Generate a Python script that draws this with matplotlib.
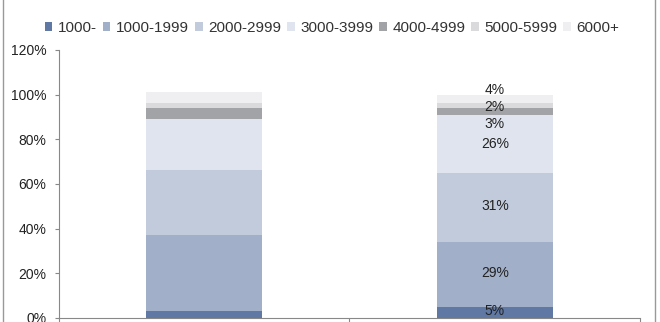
import numpy as np
import matplotlib.pyplot as plt
from matplotlib.lines import Line2D

plt.rcParams['font.family'] = ['Liberation Sans', 'DejaVu Sans']

bands = ["1000-", "1000-1999", "2000-2999", "3000-3999", "4000-4999", "5000-5999", "6000+"]
colors = ["#5f78a4", "#a1afc9", "#c1cbdc", "#dfe4ee", "#a2a3a6", "#dadadd", "#efeff1"]
bar1 = [3, 34, 29, 23, 5, 2, 5]
bar2 = [5, 29, 31, 26, 3, 2, 4]
labels2 = ["5%", "29%", "31%", "26%", "3%", "2%", "4%"]
# nudge of small labels so they do not collide (in % units)
label_shift = [0.5, 0.5, 0.5, 0, -5.5, -0.5, 4]

fig = plt.figure(figsize=(6.6, 3.22), dpi=100)
ax = fig.add_axes([0.089, 0.013, 0.881, 0.832])

x = np.array([0, 1])
bottom = np.zeros(2)
for i, name in enumerate(bands):
    vals = np.array([bar1[i], bar2[i]]) / 100
    ax.bar(x, vals, 0.4, bottom=bottom, color=colors[i], label=name, linewidth=0)
    ax.text(1, bottom[1] + vals[1] / 2 + label_shift[i] / 100, labels2[i],
            ha="center", va="center", fontsize=10, color="#222222")
    bottom += vals

ax.set_xlim(-0.5, 1.5)
ax.set_ylim(0, 1.2)
ax.set_yticks(np.arange(0, 1.21, 0.2))
ax.set_yticklabels(["{:.0f}%".format(v * 100) for v in np.arange(0, 1.21, 0.2)], fontsize=10)
ax.set_xticks([-0.5, 0.5, 1.5])
ax.set_xticklabels([])
ax.tick_params(axis="both", color="#888888", length=3, direction="out")
ax.tick_params(axis="y", pad=6, colors="#888888", labelcolor="#222222")
for s in ["top", "right"]:
    ax.spines[s].set_visible(False)
for s in ["left", "bottom"]:
    ax.spines[s].set_color("#888888")

fig.legend(loc="center", bbox_to_anchor=(0.503, 0.913), ncol=7, frameon=False,
           fontsize=11, handlelength=0.5, handleheight=0.5, handletextpad=0.35,
           columnspacing=0.4, labelcolor="#333333")

fig.add_artist(Line2D([0.004, 0.004], [0, 1], color="#999999", lw=1))
fig.add_artist(Line2D([0.993, 0.993], [0, 1], color="#999999", lw=1))

fig.savefig("out.png", dpi=100)
